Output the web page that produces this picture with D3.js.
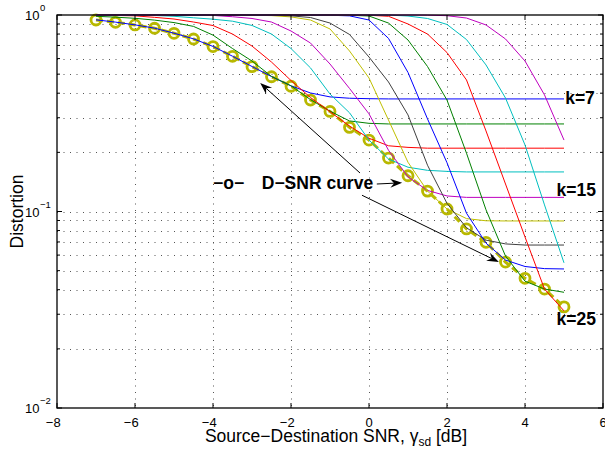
<!DOCTYPE html>
<html><head><meta charset="utf-8">
<script src="https://cdn.jsdelivr.net/npm/d3@7"></script>
<style>body{margin:0;background:#fff;} svg{display:block;font-family:"Liberation Sans",Arial,Helvetica,sans-serif;}</style>
</head><body><svg id="c" width="605" height="455"></svg>
<script>
// ---------------- data ----------------
const snrDb = [-7,-6.5,-6,-5.5,-5,-4.5,-4,-3.5,-3,-2.5,-2,-1.5,-1,-0.5,0,0.5,1,1.5,2,2.5,3,3.5,4,4.5,5];
const dSnrCurve = [0.943,0.918,0.890,0.856,0.807,0.755,0.691,0.616,0.546,0.485,0.434,0.369,0.323,0.268,0.231,0.187,0.152,0.127,0.103,0.0815,0.0697,0.0553,0.0457,0.0403,0.0327];
const distK7  = [0.945,0.920,0.891,0.857,0.808,0.756,0.692,0.617,0.547,0.486,0.436,0.401,0.383,0.377,0.375,0.374,0.374,0.374,0.374,0.374,0.374,0.374,0.374,0.374,0.374];
const distK9  = [0.985,0.975,0.962,0.942,0.915,0.875,0.790,0.675,0.583,0.487,0.436,0.371,0.324,0.289,0.281,0.279,0.279,0.279,0.279,0.279,0.279,0.279,0.279,0.279,0.279];
const distK11 = [0.998,0.995,0.990,0.973,0.954,0.921,0.884,0.800,0.695,0.576,0.464,0.380,0.322,0.272,0.236,0.216,0.212,0.210,0.210,0.210,0.210,0.210,0.210,0.210,0.210];
const distK13 = [1.000,0.999,0.998,0.994,0.985,0.968,0.952,0.930,0.885,0.800,0.675,0.538,0.396,0.318,0.231,0.185,0.168,0.162,0.160,0.159,0.159,0.159,0.159,0.159,0.159];
const distK15 = [1.000,1.000,0.999,0.999,0.998,0.997,0.995,0.980,0.960,0.921,0.829,0.720,0.563,0.423,0.314,0.205,0.150,0.128,0.120,0.118,0.118,0.118,0.118,0.118,0.118];
const distK17 = [1.000,1.000,1.000,1.000,0.999,0.999,0.999,0.998,0.997,0.993,0.978,0.943,0.849,0.656,0.478,0.292,0.178,0.127,0.103,0.092,0.0897,0.0895,0.0895,0.0895,0.0895];
const distK19 = [1.000,1.000,1.000,1.000,1.000,1.000,0.999,0.999,0.999,0.998,0.990,0.971,0.910,0.796,0.611,0.456,0.310,0.172,0.110,0.0826,0.0715,0.0684,0.0675,0.0675,0.0675];
const distK21 = [1.000,1.000,1.000,1.000,1.000,1.000,1.000,1.000,1.000,1.000,0.999,0.999,0.997,0.990,0.943,0.760,0.510,0.296,0.177,0.098,0.069,0.0566,0.0525,0.0512,0.0510];
const distK23 = [1.000,1.000,1.000,1.000,1.000,1.000,1.000,1.000,1.000,1.000,1.000,1.000,0.999,0.997,0.988,0.910,0.746,0.547,0.369,0.198,0.102,0.0593,0.0442,0.0403,0.0388];
const distK25 = [1.000,1.000,1.000,1.000,1.000,1.000,1.000,1.000,1.000,1.000,1.000,1.000,1.000,0.999,0.997,0.985,0.900,0.800,0.644,0.467,0.257,0.138,0.0742,0.0403,0.0312];
const distK27 = [1.000,1.000,1.000,1.000,1.000,1.000,1.000,1.000,1.000,1.000,1.000,1.000,1.000,1.000,1.000,0.999,0.988,0.960,0.895,0.750,0.557,0.378,0.218,0.108,0.0548];
const distK29 = [1.000,1.000,1.000,1.000,1.000,1.000,1.000,1.000,1.000,1.000,1.000,1.000,1.000,1.000,1.000,1.000,1.000,0.998,0.992,0.965,0.890,0.755,0.583,0.392,0.231];
const kValues = [7,9,11,13,15,17,19,21,23,25,27,29];
const kSeries = [distK7,distK9,distK11,distK13,distK15,distK17,distK19,distK21,distK23,distK25,distK27,distK29];
const lineColors = ["#0000ff","#008000","#ff0000","#00bfbf","#bf00bf","#bfbf00","#404040"];
const xTicks = [-8,-6,-4,-2,0,2,4,6];
const xTickLabels = ["\u22128","\u22126","\u22124","\u22122","0","2","4","6"];
const yMajor = [0.01,0.1,1];
const yExpLabels = ["\u22122","\u22121","0"];
const kLabels = [{text:"k=7",x:5.03,y:0.352},{text:"k=15",x:4.81,y:0.120},{text:"k=25",x:4.81,y:0.0264}];
// annotation arrows in data coordinates: [x0,y0] -> tip [x1,y1]
const arrows = [
  {from:[-0.23,0.157], to:[-2.79,0.451]},
  {from:[0.20,0.138],  to:[0.85,0.140]},
  {from:[-0.18,0.121], to:[3.33,0.0553]}
];

// ---------------- drawing ----------------
const svg = d3.select("#c");
const L=57,R=603,T=15,B=408;
const x = d3.scaleLinear().domain([-8,6]).range([L,R]);
const y = d3.scaleLog().domain([0.01,1]).range([B,T]);

svg.append("rect").attr("width",605).attr("height",455).attr("fill","#fff");
svg.append("defs").append("clipPath").attr("id","clip")
  .append("rect").attr("x",L).attr("y",T-2).attr("width",R-L).attr("height",B-T+2);

// grid
const yGridVals = [];
[0.01,0.1].forEach(d=>{for(let m=1;m<10;m++) yGridVals.push(d*m);});
const grid = svg.append("g").attr("stroke","#555").attr("stroke-width",1).attr("stroke-dasharray","1,5.5");
grid.selectAll(".hy").data(yGridVals.filter(v=>v>0.0100001)).join("line")
  .attr("x1",L).attr("x2",R).attr("y1",d=>Math.round(y(d))+0.5).attr("y2",d=>Math.round(y(d))+0.5);
grid.selectAll(".vx").data(xTicks.slice(1,-1)).join("line")
  .attr("y1",T).attr("y2",B).attr("x1",d=>Math.round(x(d))+0.5).attr("x2",d=>Math.round(x(d))+0.5);

const plot = svg.append("g").attr("clip-path","url(#clip)");
const line = d3.line().x((d,i)=>x(snrDb[i])).y(d=>y(d));

// D-SNR curve
plot.append("path").datum(dSnrCurve).attr("d",line).attr("fill","none")
  .attr("stroke","#b8b800").attr("stroke-width",3).attr("stroke-dasharray","7,4");
plot.selectAll(".mk").data(dSnrCurve).join("circle")
  .attr("cx",(d,i)=>x(snrDb[i])).attr("cy",d=>y(d)).attr("r",5)
  .attr("fill","none").attr("stroke","#b8b800").attr("stroke-width",2.8);

// k curves
kSeries.forEach((s,i)=>{
  plot.append("path").datum(s).attr("d",line).attr("fill","none")
    .attr("stroke",lineColors[i%lineColors.length]).attr("stroke-width",1);
});

// axes box and ticks
const ax = svg.append("g").attr("stroke","#000").attr("stroke-width",1.3);
ax.append("rect").attr("x",L).attr("y",T).attr("width",R-L).attr("height",B-T).attr("fill","none");
xTicks.forEach(v=>{
  const px=x(v);
  ax.append("line").attr("x1",px).attr("x2",px).attr("y1",B).attr("y2",B-5).attr("stroke-width",1);
  ax.append("line").attr("x1",px).attr("x2",px).attr("y1",T).attr("y2",T+5).attr("stroke-width",1);
});
yGridVals.concat([1]).forEach(v=>{
  const py=y(v), major = Math.abs(Math.log10(v)-Math.round(Math.log10(v)))<1e-6;
  const len = major?5:3;
  ax.append("line").attr("x1",L).attr("x2",L+len).attr("y1",py).attr("y2",py).attr("stroke-width",1);
  ax.append("line").attr("x1",R).attr("x2",R-len).attr("y1",py).attr("y2",py).attr("stroke-width",1);
});

// tick labels
const tl = svg.append("g").attr("fill","#000").attr("font-size",13);
xTicks.forEach((v,i)=>{
  tl.append("text").attr("x",x(v)+3.7).attr("y",B+19).attr("text-anchor","end").text(xTickLabels[i]);
});
yMajor.forEach((v,i)=>{
  const py=y(v);
  tl.append("text").attr("x",25).attr("y",py+5).text("10");
  tl.append("text").attr("x",40).attr("y",py-4).attr("font-size",9.5).text(yExpLabels[i]);
});

// axis titles
const xt = svg.append("text").attr("x",(L+R)/2+6).attr("y",441.5).attr("text-anchor","middle").attr("font-size",17.5);
xt.append("tspan").text("Source\u2212Destination SNR, \u03b3");
xt.append("tspan").attr("font-size",12).attr("dy",4).text("sd");
xt.append("tspan").attr("dy",-4).text(" [dB]");
svg.append("text").attr("transform","translate(23,"+((T+B)/2)+") rotate(-90)")
  .attr("text-anchor","middle").attr("font-size",17.5).text("Distortion");

// annotations
const ann = svg.append("g");
kLabels.forEach(k=>{
  ann.append("text").attr("x",x(k.x)).attr("y",y(k.y)).attr("font-size",17.5)
    .attr("font-weight","bold").text(k.text);
});
ann.append("text").attr("x",x(-4.0)).attr("y",y(0.130)).attr("font-size",17.5).attr("font-weight","bold").text("\u2212o\u2212");
ann.append("text").attr("x",x(-2.75)).attr("y",y(0.130)).attr("font-size",17.5).attr("font-weight","bold").text("D\u2212SNR curve");

arrows.forEach(a=>{
  const x0=x(a.from[0]), y0=y(a.from[1]), x1=x(a.to[0]), y1=y(a.to[1]);
  const ang=Math.atan2(y1-y0,x1-x0);
  const hl=12, hw=4.5, notch=8;
  const bx=x1-hl*Math.cos(ang), by=y1-hl*Math.sin(ang);
  const nx=x1-notch*Math.cos(ang), ny=y1-notch*Math.sin(ang);
  const px=-Math.sin(ang), py=Math.cos(ang);
  ann.append("line").attr("x1",x0).attr("y1",y0).attr("x2",nx).attr("y2",ny)
    .attr("stroke","#000").attr("stroke-width",1);
  ann.append("path").attr("d",`M${x1},${y1}L${bx+hw*px},${by+hw*py}L${nx},${ny}L${bx-hw*px},${by-hw*py}Z`)
    .attr("fill","#000");
});
</script></body></html>
